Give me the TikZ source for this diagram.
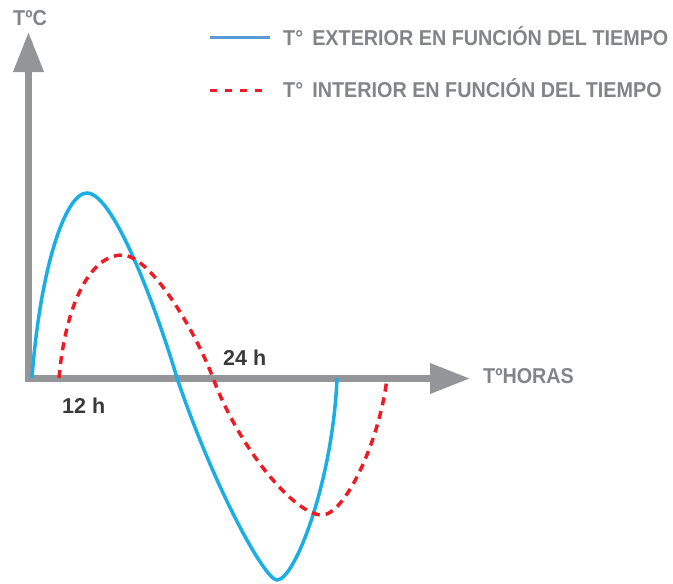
\documentclass[tikz,border=0pt]{standalone}
\usepackage{fontspec}
\setmainfont{Liberation Sans}
\newfontfamily\narrowfont{Liberation Sans}[FakeStretch=0.92]
\usetikzlibrary{arrows.meta}
\definecolor{axisgray}{HTML}{939598}
\definecolor{labelgray}{HTML}{828487}
\definecolor{hourgray}{HTML}{3A3A3C}
\definecolor{extblue}{HTML}{1AAEE5}
\definecolor{legblue}{HTML}{5B9BD5}
\definecolor{intred}{HTML}{ED1C24}
\tikzset{
  axisline/.style={line width=7pt, axisgray, line join=miter,
    {Triangle[length=40pt,width=29pt]}-{Triangle[length=40pt,width=29pt]}},
  extcurve/.style={line width=3.5pt, extblue},
  intcurve/.style={line width=3.5pt, intred, dash pattern=on 8pt off 6pt},
  lbl/.style={inner sep=0pt, anchor=base west, font=\narrowfont\fontsize{21.5}{24}\selectfont\bfseries, labelgray},
  hour/.style={inner sep=0pt, anchor=base west, font=\fontsize{21.5}{24}\selectfont\bfseries, hourgray}
}
\begin{document}
\begin{tikzpicture}[x=1pt,y=-1pt]
    \useasboundingbox (0,0) rectangle (673,584);
    \coordinate (O) at (28.5,378.5);
    \coordinate (ytip) at (28.5,32);
    \coordinate (xtip) at (470,378.5);

    \draw [axisline] (ytip) -- (O) -- (xtip);
    \node [lbl] (ylabel) at (13,25) {TºC};
    \node [lbl] (xlabel) at (483,383) {TºHORAS};
    \node [hour] (h24) at (223,365) {24 h};
    \node [hour] (h12) at (62,413) {12 h};

    % exterior
    \draw [extcurve] (32,378) .. controls (40,270) and (65,193) .. (87,193)
        .. controls (115,193) and (160,320) .. (177,378)
        .. controls (215,490) and (265,580) .. (277,580)
        .. controls (295,580) and (333,480) .. (337,378);
    % interior
    \draw [intcurve] (59,378) .. controls (66,300) and (92,255) .. (122,255)
        .. controls (150,255) and (195,330) .. (213,378)
        .. controls (240,450) and (295,515) .. (322,515)
        .. controls (345,515) and (380,440) .. (387,378);

    % legend
    \coordinate (ext1) at (210,37);
    \coordinate (ext2) at (270,37);
    \coordinate (int1) at (210,90);
    \coordinate (int2) at (270,90);
    \draw [line width=3pt, legblue] (ext1) -- (ext2);
    \draw [line width=3pt, intred, dash pattern=on 7pt off 8pt] (int1) -- (int2);
    \node [lbl] (extlabel) at (283,45) {T°\, EXTERIOR EN FUNCIÓN DEL TIEMPO};
    \node [lbl] (intlabel) at (283,97) {T°\, INTERIOR EN FUNCIÓN DEL TIEMPO};
\end{tikzpicture}
\end{document}
